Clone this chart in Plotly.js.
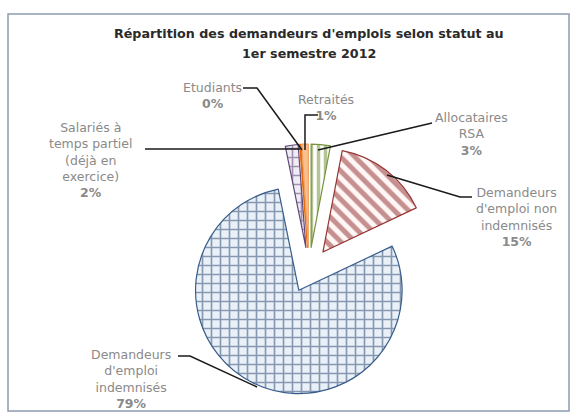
<!DOCTYPE html>
<html>
<head>
<meta charset="utf-8">
<script src="https://cdn.plot.ly/plotly-3.0.1.min.js"></script>
<style>html,body{margin:0;padding:0;background:#fff;}#chart{width:576px;height:414px;}</style>
</head>
<body>
<div id="chart"></div>
<script>
// ---- data (clockwise from 12 o'clock) ----
const categories = ["Allocataires RSA", "Demandeurs d'emploi non indemnisés", "Demandeurs d'emploi indemnisés", "Salariés à temps partiel (déjà en exercice)", "Etudiants", "Retraités"];
const values = [3, 15, 79, 2, 0.2, 1];
const labelLines = ["Allocataires<br>RSA", "Demandeurs<br>d'emploi non<br>indemnisés", "Demandeurs<br>d'emploi<br>indemnisés", "Salariés à<br>temps partiel<br>(déjà en<br>exercice)", "Etudiants", "Retraités"];
const titleLines = ["Répartition des demandeurs d'emplois selon statut au", "1er semestre 2012"];

// ---- styles ----
const W = 576, H = 414;
const fgColors = ["#6a8a2c", "#8c2a28", "#1f3f66", "#4f3a6a", "#e46c0a", "#e46c0a"];
const bgColors = ["#ffffff", "#fff6f6", "#eaf0f8", "#f0ebf5", "#fac090", "#fac090"];
const shapes = ["|", "\\", "+", "+", "", ""];
const pSizes = [7, 10, 9, 9, 8, 8];
const lineColors = ["#77933c", "#953735", "#385d8a", "#5f497a", "#e46c0a", "#f0a060"];
// label anchor positions (px: center x, top y)
const labelPos = [[471, 108], [516, 183], [131, 345], [90, 118], [212, 78], [326, 90]];
// leader line paths (px)
const leaders = [
  [[432, 123], [318, 150]],
  [[472, 197], [460, 197], [387, 175]],
  [[178, 356], [190, 356], [257, 387]],
  [[145, 149], [300, 149]],
  [[243, 88], [257, 88], [302, 150]],
  [[318, 115], [305, 115], [305, 150]]
];

const px = (x) => x / W, py = (y) => 1 - y / H;
const total = values.reduce((a, b) => a + b, 0);

const cx = 309, cy = 270, half = 126;
const trace = {
  type: 'pie',
  values: values,
  labels: categories,
  sort: false,
  direction: 'clockwise',
  rotation: 0,
  pull: values.map(() => 0.22),
  textinfo: 'none',
  hoverinfo: 'label+percent',
  showlegend: false,
  domain: {x: [px(cx - half), px(cx + half)], y: [py(cy + half), py(cy - half)]},
  marker: {
    colors: bgColors,
    line: {color: lineColors, width: 1.2},
    pattern: {shape: shapes, fgcolor: fgColors, bgcolor: bgColors, size: pSizes, solidity: [0.5, 0.5, 0.33, 0.33, 0.2, 0.2], fillmode: 'overlay'}
  }
};

const FONT = 'DejaVu Sans';
const annotations = [];
categories.forEach((c, i) => {
  const pct = Math.round(values[i] / total * 100) + '%';
  annotations.push({
    xref: 'paper', yref: 'paper', x: px(labelPos[i][0]), y: py(labelPos[i][1]),
    xanchor: 'center', yanchor: 'top', align: 'center', showarrow: false,
    text: labelLines[i] + '<br><b>' + pct + '</b>',
    font: {family: FONT, size: 12.5, color: '#8a8a8a'}
  });
});
annotations.push({xref: 'paper', yref: 'paper', x: px(309), y: py(33), xanchor: 'center', yanchor: 'middle', showarrow: false,
  text: '<b>' + titleLines[0] + '</b>', font: {family: FONT, size: 12.7, color: '#2a2a2a'}});
annotations.push({xref: 'paper', yref: 'paper', x: px(309), y: py(53), xanchor: 'center', yanchor: 'middle', showarrow: false,
  text: '<b>' + titleLines[1] + '</b>', font: {family: FONT, size: 12.7, color: '#2a2a2a'}});

const layoutShapes = [{type: 'rect', xref: 'paper', yref: 'paper', x0: px(8), x1: px(569), y0: py(411), y1: py(14),
  line: {color: '#8c9bb0', width: 1.5}, fillcolor: 'rgba(0,0,0,0)'}];
leaders.forEach(pts => {
  const d = pts.map((p, k) => (k ? 'L' : 'M') + px(p[0]).toFixed(4) + ',' + py(p[1]).toFixed(4)).join(' ');
  layoutShapes.push({type: 'path', xref: 'paper', yref: 'paper', path: d, line: {color: '#1a1a1a', width: 1.5}});
});

const layout = {
  width: W, height: H,
  margin: {l: 0, r: 0, t: 0, b: 0},
  paper_bgcolor: '#ffffff',
  annotations: annotations,
  shapes: layoutShapes,
  showlegend: false
};
Plotly.newPlot('chart', [trace], layout, {displayModeBar: false, staticPlot: true});
</script>
</body>
</html>
